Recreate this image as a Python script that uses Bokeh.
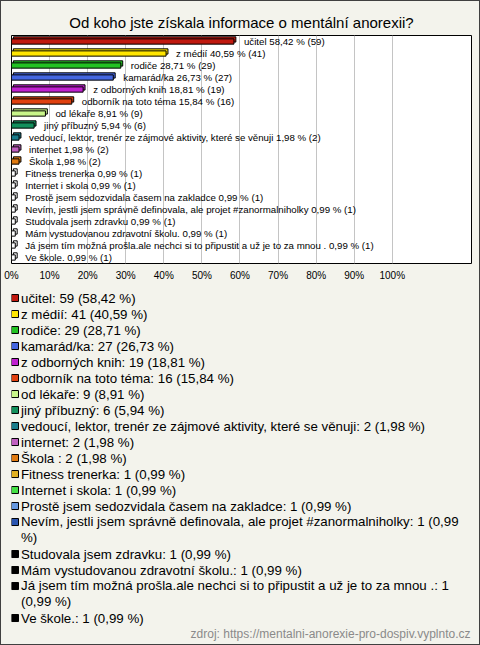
import textwrap
from bokeh.plotting import figure
from bokeh.models import Range1d, FixedTicker, ColumnDataSource
from bokeh.layouts import column
from bokeh.embed import file_html
from bokeh.resources import INLINE
from bokeh.core.properties import value

# ---------------- data ----------------
title_text = "Od koho jste získala informace o mentální anorexii?"
source_text = "zdroj: https://mentalni-anorexie-pro-dospiv.vyplnto.cz"

categories = [
    "učitel", "z médií", "rodiče", "kamarád/ka", "z odborných knih",
    "odborník na toto téma", "od lékaře", "jiný příbuzný",
    "vedoucí, lektor, trenér ze zájmové aktivity, které se věnuji",
    "internet", "Škola ", "Fitness trenerka", "Internet i skola",
    "Prostě jsem sedozvidala časem na zakladce",
    "Nevím, jestli jsem správně definovala, ale projet #zanormalniholky",
    "Studovala jsem zdravku", "Mám vystudovanou zdravotní školu.",
    "Já jsem tím možná prošla.ale nechci si to připustit a už je to za mnou .",
    "Ve škole.",
]
counts = [59, 41, 29, 27, 19, 16, 9, 6, 2, 2, 2, 1, 1, 1, 1, 1, 1, 1, 1]
percents = [58.42, 40.59, 28.71, 26.73, 18.81, 15.84, 8.91, 5.94, 1.98, 1.98,
            1.98, 0.99, 0.99, 0.99, 0.99, 0.99, 0.99, 0.99, 0.99]
colors = ["#c0190f", "#ffe600", "#22c222", "#4466e0", "#c020d0", "#e0400f",
          "#c8f58a", "#12905c", "#1a7d8c", "#c060c0", "#e07a10", "#e0b020",
          "#44e044", "#6699e0", "#2a55b0", "#000000", "#000000", "#000000",
          "#000000"]
tick_values = [0, 10, 20, 30, 40, 50, 60, 70, 80, 90, 100]
tick_labels = ["0%", "10%", "20%", "30%", "40%", "50%", "60%", "70%", "80%",
               "90%", "100%"]

# ---------------- style ----------------
BG = "#f3f3ec"
FONT = "Liberation Sans"
W = 480
H1 = 290
H2 = 355
BL, BR = 11, 9   # left / right borders shared by both panels

n = len(categories)
rows = list(range(n))
pct_txt = [f"{v:.2f}".replace(".", ",") for v in percents]
bar_labels = [f"{c} {p} % ({k})" for c, p, k in zip(categories, pct_txt, counts)]
bar_fill = [c if k > 1 else "white" for c, k in zip(colors, counts)]

# ---------------- bar chart ----------------
p = figure(width=W, height=H1, x_range=Range1d(0, 120.8),
           y_range=Range1d(n - 0.5, -0.5), output_backend="svg",
           toolbar_location=None, y_axis_location=None,
           min_border_left=BL, min_border_right=BR, min_border_top=35,
           min_border_bottom=27)
p.background_fill_color = "white"
p.border_fill_color = BG
p.outline_line_color = "black"
p.outline_line_width = 1

p.title.text = title_text
p.title.align = "center"
p.title.text_font = FONT
p.title.text_font_size = "15px"
p.title.text_font_style = "normal"
p.title.text_color = "black"
p.title.offset = 0
p.title.standoff = 9

ticker = FixedTicker(ticks=tick_values)
p.xaxis.ticker = ticker
p.xaxis.major_label_overrides = {v: s for v, s in zip(tick_values, tick_labels)}
p.xaxis.axis_line_color = None
p.xaxis.major_tick_line_color = None
p.xaxis.minor_tick_line_color = None
p.xaxis.major_tick_out = 0
p.xaxis.major_tick_in = 0
p.xaxis.minor_tick_out = 0
p.xaxis.minor_tick_in = 0
p.xaxis.major_label_standoff = 6
p.xaxis.major_label_text_font = FONT
p.xaxis.major_label_text_font_size = "10px"
p.xaxis.major_label_text_color = "black"
p.xgrid.ticker = ticker
p.xgrid.grid_line_color = "#c4c4c4"
p.ygrid.visible = False

half = 0.22   # half height of the bar face (rows)
dx = 0.5      # 3D depth (percent units)
dy = 0.17     # 3D depth (rows)
src = ColumnDataSource(dict(
    y=rows, pct=percents, color=bar_fill, label=bar_labels,
    left=[0] * n,
    back_left=[dx] * n,
    back_right=[v + dx for v in percents],
    top=[r - half for r in rows],
    bottom=[r + half for r in rows],
    back_top=[r - half - dy for r in rows],
    back_bottom=[r + half - dy for r in rows],
))
p.quad(left="back_left", right="back_right", top="back_top", bottom="back_bottom",
       source=src, fill_color="color", line_color="black", line_width=1)
p.quad(left="left", right="pct", top="top", bottom="bottom",
       source=src, fill_color="color", line_color="black", line_width=1)
p.text(x="pct", y="y", text="label", source=src, x_offset=10,
       text_baseline="middle", text_align="left",
       text_font=value(FONT), text_font_size="9.7px", text_color="black")

# ---------------- legend ----------------
leg_labels = [f"{c}: {k} ({pt} %)" for c, k, pt in zip(categories, counts, pct_txt)]
wrapped = ["\n".join(textwrap.wrap(s, width=77)) for s in leg_labels]
first_line = []
centers = []
line = 0
for s in wrapped:
    nl = s.count("\n") + 1
    first_line.append(line)
    centers.append(line + (nl - 1) * 0.47)
    line += nl

# legend panel: x measured in page pixels (frame spans BL .. W-BR)
p2 = figure(width=W, height=H2, x_range=Range1d(BL, W - BR),
            y_range=Range1d(H2 / 16 - 0.47, -0.47), output_backend="svg",
            toolbar_location=None, x_axis_location=None, y_axis_location=None,
            min_border_left=BL, min_border_right=BR,
            min_border_top=0, min_border_bottom=0)
p2.background_fill_color = BG
p2.border_fill_color = BG
p2.outline_line_color = None
p2.xgrid.visible = False
p2.ygrid.visible = False

lsrc = ColumnDataSource(dict(first=first_line, center=centers, text=wrapped,
                             color=colors, mx=[BL + 3.5] * n, tx=[BL + 9.5] * n))
p2.scatter(x="mx", y="first", marker="square", size=7, source=lsrc,
           fill_color="color", line_color="black", line_width=1)
p2.text(x="tx", y="center", text="text", source=lsrc, text_baseline="middle",
        text_align="left", text_font=value(FONT), text_font_size="13.3px",
        text_line_height=1.12, text_color="black")
p2.text(x=[W - BR - 1], y=[line], text=[source_text], text_align="right",
        text_baseline="middle", text_font=value(FONT), text_font_size="12px",
        text_color="#8a8a8a")

layout = column(p, p2, spacing=0)

html = file_html(layout, INLINE)
style = ('<style>html,body{background:#f3f3ec;}'
         'body::after{content:"";position:fixed;left:0;top:0;right:0;bottom:0;'
         'border:1px solid #404040;pointer-events:none;z-index:1000;}</style>')
i = html.rfind("</head>")
if i >= 0:
    html = html[:i] + style + html[i:]
open("out.html", "w").write(html)
